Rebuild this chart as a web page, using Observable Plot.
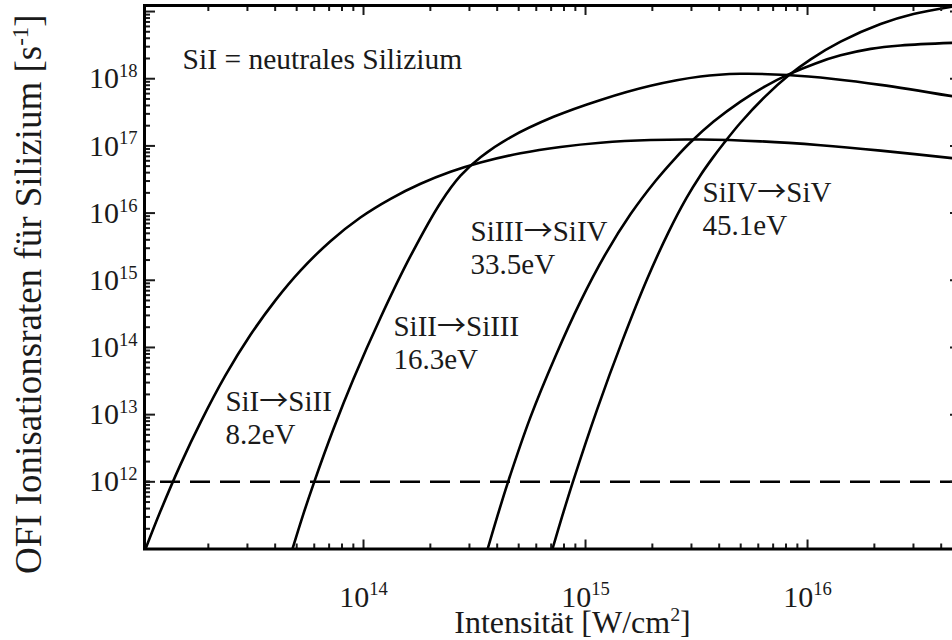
<!DOCTYPE html>
<html>
<head>
<meta charset="utf-8">
<script src="https://cdn.jsdelivr.net/npm/d3@7"></script>
<script src="https://cdn.jsdelivr.net/npm/@observablehq/plot@0.6"></script>
<style>
  html, body { margin: 0; padding: 0; background: #fff; overflow: hidden; }
  #chart svg { display: block; max-width: none !important; }
</style>
</head>
<body>
<div id="chart"></div>
<script>
// OFI ionization rates of silicon charge states versus laser intensity.
// Each point: [log10 intensity in W/cm², log10 rate in 1/s]
const siI_II = [
  [13.018, 11.000], [13.086, 11.568], [13.176, 12.260], [13.266, 12.885], [13.378, 13.583],
  [13.491, 14.188], [13.604, 14.705], [13.716, 15.144], [13.851, 15.582], [13.986, 15.935],
  [14.122, 16.213], [14.257, 16.436], [14.392, 16.615], [14.527, 16.753], [14.707, 16.890],
  [14.887, 16.985], [15.068, 17.048], [15.293, 17.088], [15.518, 17.095], [15.788, 17.068],
  [16.059, 17.010], [16.329, 16.930], [16.689, 16.805]
];
const siII_III = [
  [13.680, 11.000], [13.725, 11.479], [13.775, 11.970], [13.865, 12.789], [13.955, 13.533],
  [14.077, 14.446], [14.212, 15.362], [14.347, 16.155], [14.437, 16.557], [14.527, 16.832],
  [14.662, 17.128], [14.856, 17.433], [15.068, 17.685], [15.293, 17.896], [15.518, 18.034],
  [15.698, 18.073], [15.910, 18.055], [16.117, 17.997], [16.329, 17.909], [16.689, 17.719]
];
const siIII_IV = [
  [14.559, 11.000], [14.604, 11.499], [14.649, 11.978], [14.752, 12.963], [14.865, 13.874],
  [14.977, 14.683], [15.090, 15.390], [15.203, 15.985], [15.315, 16.478], [15.405, 16.820],
  [15.473, 17.054], [15.577, 17.362], [15.698, 17.660], [15.811, 17.891], [15.910, 18.057],
  [16.036, 18.228], [16.149, 18.348], [16.284, 18.444], [16.419, 18.495], [16.689, 18.539]
];
const siIV_V = [
  [14.851, 11.000], [14.896, 11.499], [14.941, 11.978], [15.054, 13.094], [15.167, 14.109],
  [15.279, 15.030], [15.374, 15.717], [15.455, 16.226], [15.518, 16.564], [15.572, 16.818],
  [15.622, 17.036], [15.698, 17.345], [15.811, 17.741], [15.910, 18.036], [16.014, 18.289],
  [16.149, 18.552], [16.329, 18.814], [16.477, 18.963], [16.689, 19.092]
];

// Reference rate marked by the dashed line (1/s)
const thresholdRate = [1e12];

// Axis extents (log10) and tick decades
const xExtent = [13.0135, 16.689];
const yExtent = [11.0, 19.09];
const xDecades = [13, 14, 15, 16];
const yDecades = [11, 12, 13, 14, 15, 16, 17, 18, 19];
const xLabelExponents = [14, 15, 16];
const yLabelExponents = [12, 13, 14, 15, 16, 17, 18];

// Text labels placed by their top-left corner: log10 intensity, log10 rate
const annotations = [
  {text: "SiI = neutrales Silizium", lx: 13.185, ly: 18.493, size: 29.5},
  {text: "SiI\u2192SiII\n8.2eV", lx: 13.378, ly: 13.403, size: 29},
  {text: "SiII\u2192SiIII\n16.3eV", lx: 14.135, ly: 14.519, size: 29},
  {text: "SiIII\u2192SiIV\n33.5eV", lx: 14.482, ly: 15.933, size: 29},
  {text: "SiIV\u2192SiV\n45.1eV", lx: 15.527, ly: 16.513, size: 29}
];

const xTitle = "Intensität [W/cm^{2}]";
const yTitle = "OFI Ionisationsraten für Silizium [s^{-1}]";

const series = [
  ["SiI-SiII", siI_II], ["SiII-SiIII", siII_III],
  ["SiIII-SiIV", siIII_IV], ["SiIV-SiV", siIV_V]
];
const curves = series.flatMap(([name, pts]) =>
  pts.map(([li, lr]) => ({name, I: 10 ** li, rate: 10 ** lr})));

const xDomain = xExtent.map(e => 10 ** e);
const yDomain = yExtent.map(e => 10 ** e);
const inDomain = (v, [lo, hi]) => v >= lo * 0.9999 && v <= hi * 1.0001;
const majors = (decs, dom) => decs.map(d => 10 ** d).filter(v => inDomain(v, dom));
const minors = (decs, dom) => decs.flatMap(d => [2, 3, 4, 5, 6, 7, 8, 9].map(k => k * 10 ** d)).filter(v => inDomain(v, dom));

const xMajor = majors(xDecades, xDomain), xMinor = minors(xDecades, xDomain);
const yMajor = majors(yDecades, yDomain), yMinor = minors(yDecades, yDomain);

const blank = () => "";
const tickStyle = {label: null, tickFormat: blank, strokeWidth: 2};

const chart = Plot.plot({
  width: 962,
  height: 640,
  marginLeft: 144,
  marginRight: 2,
  marginTop: 5,
  marginBottom: 91.5,
  style: {fontFamily: "'Liberation Serif', 'Times New Roman', serif", fontSize: "29px", color: "#1a1a1a", background: "#fff"},
  x: {type: "log", domain: xDomain},
  y: {type: "log", domain: yDomain},
  marks: [
    Plot.ruleY(thresholdRate, {stroke: "#000", strokeWidth: 2.6, strokeDasharray: "20,10", strokeDashoffset: 14}),
    Plot.line(curves, {x: "I", y: "rate", z: "name", stroke: "#000", strokeWidth: 2.6, curve: "catmull-rom", clip: true}),

    // inward ticks on all four sides
    Plot.axisX(xMajor, {...tickStyle, anchor: "bottom", tickSize: 9, dy: -9}),
    Plot.axisX(xMinor, {...tickStyle, anchor: "bottom", tickSize: 5, dy: -5}),
    Plot.axisX(xMajor, {...tickStyle, anchor: "top", tickSize: 9, dy: 9}),
    Plot.axisX(xMinor, {...tickStyle, anchor: "top", tickSize: 5, dy: 5}),
    Plot.axisY(yMajor, {...tickStyle, anchor: "left", tickSize: 11, dx: 11}),
    Plot.axisY(yMinor, {...tickStyle, anchor: "left", tickSize: 6, dx: 6}),
    Plot.axisY(yMajor, {...tickStyle, anchor: "right", tickSize: 11, dx: -11}),
    Plot.axisY(yMinor, {...tickStyle, anchor: "right", tickSize: 6, dx: -6}),
    Plot.frame({stroke: "#000", strokeWidth: 3}),

    // decade labels
    Plot.text(xLabelExponents, {x: e => 10 ** e, frameAnchor: "bottom", lineAnchor: "middle", dy: 48, fontSize: 30, text: e => `10^{${e}}`}),
    Plot.text(yLabelExponents, {y: e => 10 ** e, frameAnchor: "left", dx: -7, textAnchor: "end", fontSize: 30, text: e => `10^{${e}}`}),

    // axis titles
    Plot.text([xTitle], {text: d => d, frameAnchor: "bottom", lineAnchor: "middle", textAnchor: "middle", dx: 20, dy: 74, fontSize: 32}),
    Plot.text([yTitle], {text: d => d, frameAnchor: "left", lineAnchor: "middle", textAnchor: "middle", dx: -115, dy: 17, rotate: -90, fontSize: 37}),

    // transition labels
    Plot.text(annotations, {x: d => 10 ** d.lx, y: d => 10 ** d.ly, text: "text", textAnchor: "start", lineAnchor: "top", lineHeight: 1.14, fontSize: "size"})
  ]
});

const SVGNS = "http://www.w3.org/2000/svg";
const tspan = (txt, attrs = {}) => {
  const t = document.createElementNS(SVGNS, "tspan");
  t.textContent = txt;
  for (const [k, v] of Object.entries(attrs)) t.setAttribute(k, v);
  return t;
};

// Turn "^{...}" markup into raised, smaller tspans
const SUP = 0.62, RAISE = 0.6;
d3.select(chart).selectAll("text").each(function () {
  const el = this;
  if (el.querySelector("tspan")) return;
  const s = el.textContent;
  if (!s.includes("^{")) return;
  const parts = s.split(/(\^\{[^}]*\})/).filter(p => p.length);
  el.textContent = "";
  let raised = false;
  for (const p of parts) {
    if (p.startsWith("^{")) {
      el.appendChild(tspan(p.slice(2, -1), {"font-size": `${SUP * 100}%`, dy: `${-RAISE}em`}));
      raised = true;
    } else {
      el.appendChild(tspan(p, raised ? {dy: `${RAISE * SUP}em`} : {}));
      raised = false;
    }
  }
});

// Draw the transition arrows with a thin full-width glyph
d3.select(chart).selectAll("text, tspan").each(function () {
  const el = this;
  if (el.children.length || !el.textContent.includes("\u2192")) return;
  const [a, b] = el.textContent.split("\u2192");
  el.textContent = "";
  el.appendChild(document.createTextNode(a));
  el.appendChild(tspan("\u2192", {"font-family": "'Noto Sans CJK SC', 'DejaVu Sans', sans-serif"}));
  el.appendChild(document.createTextNode(b));
});

document.getElementById("chart").appendChild(chart);
</script>
</body>
</html>
